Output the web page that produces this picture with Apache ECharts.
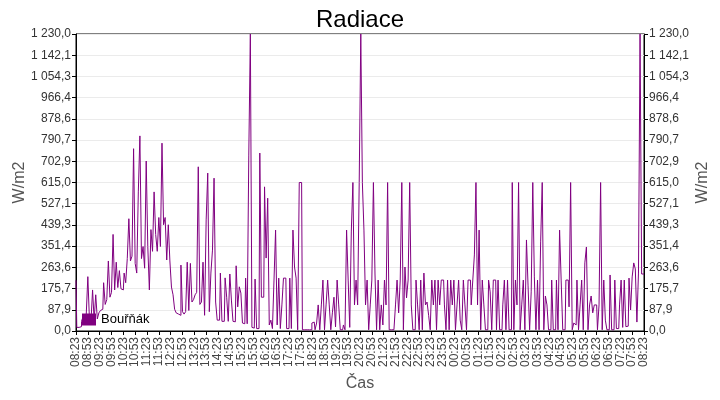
<!DOCTYPE html>
<html>
<head>
<meta charset="utf-8">
<title>Radiace</title>
<script src="https://cdn.jsdelivr.net/npm/echarts@6/dist/echarts.min.js"></script>
<style>
    html, body { margin: 0; padding: 0; background: #fff; }
    #graf { width: 720px; height: 400px; }
</style>
</head>
<body>
<div id="graf"></div>
<script>
// Start of the 24 h window (08:23) and the sampling step of the readings, in minutes
const startMinute = 8 * 60 + 23;
const stepMinutes = 4;

// Radiation readings in W/m2, one row per hour starting at 08:23 (15 readings per hour)
const radiation = [
    210, 15, 15, 18, 40, 60, 30, 70, 225, 50, 40, 170, 45, 150, 50,          // 08:23
    75, 85, 90, 200, 110, 130, 290, 140, 160, 400, 170, 285, 180, 250, 175,  // 09:23
    170, 240, 200, 300, 465, 290, 310, 755, 280, 240, 576, 808, 300, 350, 260, // 10:23
    704, 350, 170, 420, 330, 576, 400, 330, 470, 350, 778, 440, 470, 294, 440, // 11:23
    290, 182, 150, 90, 75, 70, 65, 273, 80, 70, 80, 285, 85, 280, 120,       // 12:23
    130, 150, 160, 680, 110, 120, 285, 65, 460, 654, 80, 240, 335, 633, 120, // 13:23
    45, 45, 240, 40, 40, 220, 140, 40, 236, 128, 40, 38, 270, 100, 183,      // 14:23
    157, 33, 30, 219, 30, 725, 1230, 15, 12, 215, 10, 10, 737, 140, 140,     // 15:23
    597, 302, 550, 25, 45, 10, 211, 418, 25, 219, 10, 108, 219, 219, 10,     // 16:23
    10, 219, 10, 418, 265, 219, 5, 615, 615, 5, 5, 5, 5, 5, 5,               // 17:23
    33, 37, 5, 33, 108, 5, 108, 211, 5, 108, 211, 108, 5, 75, 140,           // 18:23
    17, 211, 108, 5, 5, 25, 5, 418, 211, 15, 414, 615, 108, 211, 108,        // 19:23
    615, 1230, 615, 418, 108, 211, 5, 108, 211, 615, 236, 5, 211, 5, 108,    // 20:23
    25, 211, 108, 615, 5, 5, 5, 5, 108, 211, 75, 211, 615, 5, 265,           // 21:23
    137, 211, 615, 108, 5, 5, 211, 108, 5, 211, 5, 240, 108, 120, 65,        // 22:23
    5, 211, 108, 211, 5, 211, 108, 211, 211, 108, 5, 211, 5, 211, 108,       // 23:23
    211, 5, 108, 211, 45, 5, 211, 108, 5, 211, 211, 108, 211, 315, 615,      // 00:23
    108, 418, 5, 211, 108, 5, 5, 211, 162, 5, 211, 211, 5, 211, 5,           // 01:23
    5, 108, 211, 5, 211, 5, 5, 615, 5, 211, 108, 615, 5, 108, 211,           // 02:23
    5, 377, 190, 5, 162, 615, 224, 5, 211, 5, 369, 615, 5, 145, 108,         // 03:23
    5, 5, 211, 5, 5, 211, 5, 418, 211, 5, 5, 211, 211, 100, 615,             // 04:23
    5, 33, 25, 211, 5, 108, 211, 5, 282, 348, 5, 108, 145, 75, 108,          // 05:23
    108, 5, 108, 615, 5, 211, 45, 5, 5, 232, 5, 5, 211, 10, 10,              // 06:23
    108, 211, 15, 211, 18, 20, 219, 87, 224, 282, 257, 37, 240, 1230, 236,   // 07:23
    236                                                                       // 08:23
];

// Axis limits of the value scale (14 equal steps)
const yMax = 1230;
const ySteps = 14;

const chartElement = document.getElementById('graf');
const chart = echarts.init(chartElement);

// Pair every reading with its minute offset from 08:23
const points = radiation.map((value, index) => [index * stepMinutes, value]);

// "1 230,0" style numbers (space thousands, comma decimals)
function formatValue(value) {
    const parts = value.toFixed(1).split('.');
    const whole = parts[0].replace(/\B(?=(\d{3})+(?!\d))/g, ' ');
    return whole + ',' + parts[1];
}

// Minute offset -> "HH:MM" wall clock time
function formatTime(offset) {
    const total = (startMinute + offset) % 1440;
    const h = Math.floor(total / 60);
    const m = total % 60;
    return String(h).padStart(2, '0') + ':' + String(m).padStart(2, '0');
}

const font = "'Liberation Sans', Arial, sans-serif";

function valueAxis(position, showSplit, gap) {
    return {
        type: 'value',
        position: position,
        min: 0,
        max: yMax,
        interval: yMax / ySteps,
        name: 'W/m2',
        nameLocation: 'middle',
        nameRotate: 90,
        nameGap: gap,
        nameMoveOverlap: false,
        nameTextStyle: { color: '#555', fontSize: 16, fontFamily: font },
        axisLine: { show: true, lineStyle: { color: '#000', width: 1 } },
        axisTick: { show: true, length: 4, lineStyle: { color: '#000' } },
        axisLabel: {
            color: '#333',
            fontSize: 12,
            fontFamily: font,
            margin: 5,
            formatter: formatValue
        },
        splitLine: { show: showSplit, lineStyle: { color: '#ebebeb', width: 1 } }
    };
}

const options = {
    animation: false,
    backgroundColor: '#fff',
    textStyle: { fontFamily: font },
    title: {
        text: 'Radiace',
        left: 'center',
        top: 3,
        textStyle: { color: '#000', fontSize: 24, fontWeight: 'normal', fontFamily: font }
    },
    legend: {
        data: ['Bouřňák'],
        icon: 'rect',
        left: 82,
        top: 313,
        padding: 0,
        itemWidth: 14,
        itemHeight: 12,
        itemGap: 5,
        textStyle: { color: '#000', fontSize: 13, fontFamily: font }
    },
    grid: {
        left: 76,
        right: 76,
        top: 34,
        bottom: 69,
        outerBoundsMode: 'none',
        containLabel: false,
        show: true,
        borderColor: '#000',
        borderWidth: 1
    },
    xAxis: {
        type: 'value',
        min: 0,
        max: 1440,
        interval: 30,
        name: 'Čas',
        nameLocation: 'middle',
        nameGap: 45,
        nameMoveOverlap: false,
        nameTextStyle: { color: '#555', fontSize: 16, fontFamily: font },
        axisLine: { show: true, lineStyle: { color: '#000', width: 1 } },
        axisTick: { show: true, length: 4, lineStyle: { color: '#000' } },
        axisLabel: {
            rotate: 90,
            color: '#444',
            fontSize: 12,
            fontFamily: font,
            margin: 6,
            hideOverlap: false,
            showMinLabel: true,
            showMaxLabel: true,
            formatter: formatTime
        },
        splitLine: { show: false }
    },
    yAxis: [valueAxis('left', true, 48), valueAxis('right', false, 51)],
    series: [
        {
            name: 'Bouřňák',
            type: 'line',
            data: points,
            step: 'middle',
            showSymbol: false,
            symbol: 'none',
            sampling: false,
            color: '#800080',
            lineStyle: { color: '#800080', width: 1 }
        }
    ]
};

chart.setOption(options);
</script>
</body>
</html>
